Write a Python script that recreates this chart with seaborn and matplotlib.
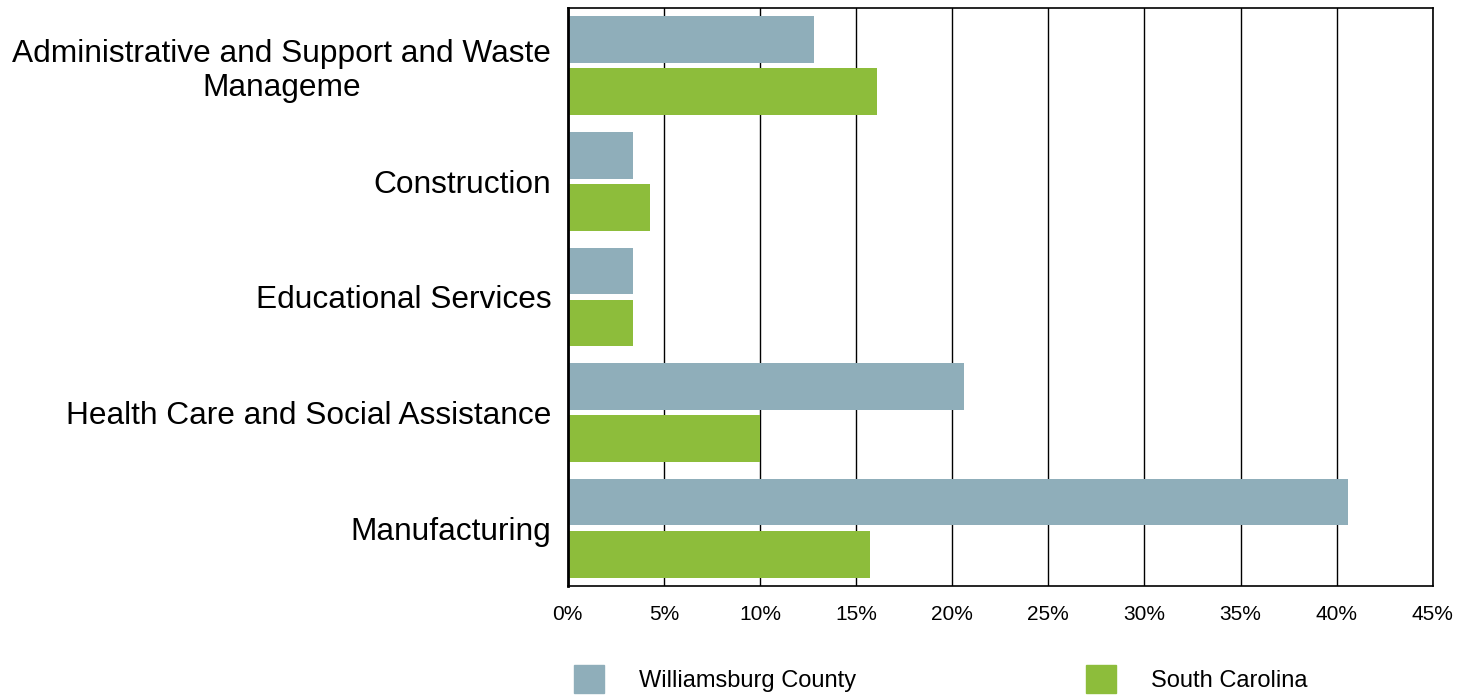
import pandas as pd
import numpy as np
import seaborn as sns
import matplotlib.pyplot as plt
from matplotlib.ticker import PercentFormatter

categories = ["Administrative and Support and Waste\nManageme", "Construction",
              "Educational Services", "Health Care and Social Assistance", "Manufacturing"]
williamsburg = [12.8, 3.4, 3.4, 20.6, 40.6]
south_carolina = [16.1, 4.3, 3.4, 10.0, 15.7]
series = ["Williamsburg County", "South Carolina"]
colors = ["#8FAEBA", "#8DBD3B"]

df = pd.DataFrame({
    "category": categories * 2,
    "value": williamsburg + south_carolina,
    "area": [series[0]] * 5 + [series[1]] * 5,
})

sns.set_style("white")
plt.rcParams['font.family'] = ['Liberation Sans', 'DejaVu Sans']
plt.rcParams['text.color'] = 'black'
plt.rcParams['xtick.color'] = 'black'
plt.rcParams['ytick.color'] = 'black'

fig = plt.figure(figsize=(14.71, 6.95), dpi=100)
ax = fig.add_axes([0.386, 0.157, 0.588, 0.8315])

sns.barplot(data=df, x="value", y="category", hue="area", palette=colors,
            saturation=1, linewidth=0, width=0.9, gap=0.1, orient="h",
            ax=ax, legend=False)

ax.set_xlim(0, 45)
ax.set_xticks(np.arange(0, 46, 5))
ax.xaxis.set_major_formatter(PercentFormatter(decimals=0))
ax.grid(axis="x", color="black", linewidth=1)
ax.set_axisbelow(True)
ax.set_xlabel("")
ax.set_ylabel("")
for s in ax.spines.values():
    s.set_visible(True)
    s.set_color("black")
    s.set_linewidth(1.2)
ax.spines["left"].set_linewidth(2)
ax.tick_params(axis="x", labelsize=15, length=0, pad=14)
ax.tick_params(axis="y", labelsize=22.8, length=0, pad=12)
for t in ax.get_yticklabels():
    t.set_multialignment("center")
    t.set_linespacing(1.15)

handles = [plt.Rectangle((0, 0), 1, 1, color=c) for c in colors]
fig.legend(handles, series, loc="lower left", bbox_to_anchor=(0.376, -0.027), ncol=2,
           frameon=False, fontsize=17, handlelength=1.25, handleheight=1.4,
           handletextpad=1.5, columnspacing=9.73)

fig.savefig("out.png", dpi=100)
